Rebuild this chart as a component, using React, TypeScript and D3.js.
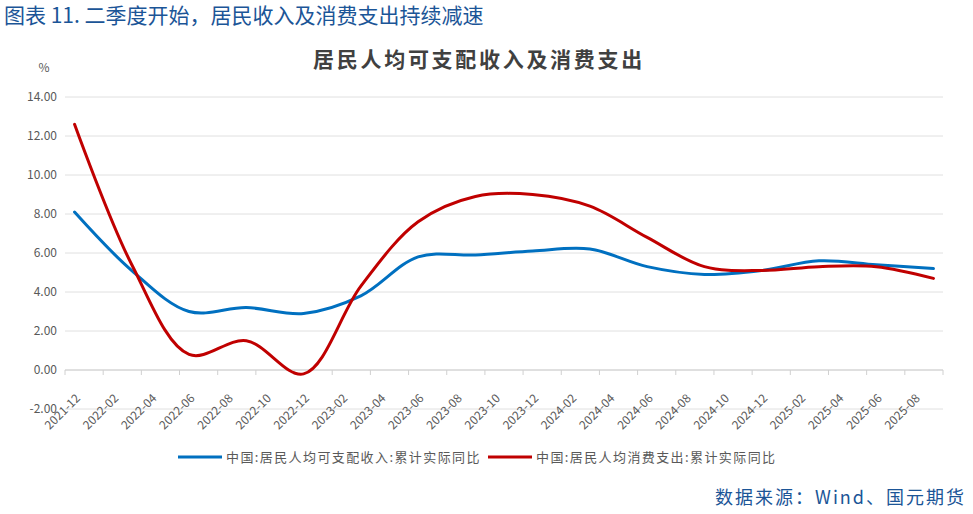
import React from "react";
import * as d3 from "d3";

// quarterly observations (cumulative real yoy, %)
const periods = [
  "2021-12", "2022-03", "2022-06", "2022-09", "2022-12",
  "2023-03", "2023-06", "2023-09", "2023-12",
  "2024-03", "2024-06", "2024-09", "2024-12",
  "2025-03", "2025-06", "2025-09",
];
const incomeValues = [8.1, 5.1, 3.0, 3.2, 2.9, 3.8, 5.8, 5.9, 6.1, 6.2, 5.3, 4.9, 5.1, 5.6, 5.4, 5.2];
const consumeValues = [12.6, 5.4, 0.8, 1.5, -0.2, 4.3, 7.6, 8.9, 9.0, 8.4, 6.8, 5.3, 5.1, 5.3, 5.3, 4.7];
const yTicks = [-2, 0, 2, 4, 6, 8, 10, 12, 14];
const seriesNames = ["中国:居民人均可支配收入:累计实际同比", "中国:居民人均消费支出:累计实际同比"];
const seriesColors = ["#0070C0", "#C00000"];

const W = 973;
const H = 514;
const left = 65;
const right = 943;
const top = 97;
const bottom = 409;

const parse = d3.timeParse("%Y-%m");
const fmt = d3.timeFormat("%Y-%m");
const start = parse("2021-12") as Date;
const end = parse("2025-10") as Date;
const nMonths = d3.timeMonth.count(start, end);

const x = d3.scaleLinear().domain([0, nMonths]).range([left, right]);
const y = d3.scaleLinear().domain([-2, 14]).range([bottom, top]);

const monthIdx = (s: string) => d3.timeMonth.count(start, parse(s) as Date);
const tickDates = d3.timeMonth.range(start, d3.timeMonth.offset(end, 1), 2);

export default function App() {
  const line = d3
    .line<number>()
    .x((_, i) => x(monthIdx(periods[i]) + 0.5))
    .y((d) => y(d))
    .curve(d3.curveCatmullRom.alpha(0.5));

  const series = [incomeValues, consumeValues];
  const font = "'Noto Sans CJK SC', 'Noto Sans', sans-serif";

  return (
    <svg width={W} height={H} style={{ position: "absolute", left: 0, top: 0, background: "#fff" }} fontFamily={font}>
      <text x={4} y={23} fontSize={21} fill="#1B5597">图表 11. 二季度开始，居民收入及消费支出持续减速</text>
      <text x={479} y={67} fontSize={21} fontWeight="bold" fill="#404040" textAnchor="middle" letterSpacing={2.7}>
        居民人均可支配收入及消费支出
      </text>
      <text x={44} y={72} fontSize={12} fill="#595959" textAnchor="middle">%</text>

      {yTicks.map((t) => (
        <g key={t}>
          <line x1={left} x2={right} y1={y(t)} y2={y(t)} stroke="#e0e0e0" strokeWidth={1} />
          <text x={57} y={y(t)} dy="0.35em" fontSize={12} fill="#595959" textAnchor="end">
            {t.toFixed(2)}
          </text>
        </g>
      ))}

      <line x1={left} x2={right} y1={y(0)} y2={y(0)} stroke="#d0d0d0" />
      {tickDates.map((d) => {
        const tx = x(d3.timeMonth.count(start, d));
        const isLast = d3.timeMonth.count(start, d) >= nMonths;
        return (
          <g key={fmt(d)}>
            <line x1={tx} x2={tx} y1={y(0)} y2={y(0) + 5} stroke="#d0d0d0" />
            {!isLast && (
              <text
                transform={`translate(${tx + 16},${y(0) + 29}) rotate(-45)`}
                fontSize={12}
                fill="#595959"
                textAnchor="end"
              >
                {fmt(d)}
              </text>
            )}
          </g>
        );
      })}

      {series.map((vals, i) => (
        <path key={i} d={line(vals) || ""} fill="none" stroke={seriesColors[i]} strokeWidth={3} strokeLinecap="round" />
      ))}

      {seriesNames.map((name, i) => {
        const lx = i === 0 ? 178 : 488;
        return (
          <g key={name}>
            <line x1={lx} x2={lx + 44} y1={457} y2={457} stroke={seriesColors[i]} strokeWidth={3} />
            <text x={lx + 48} y={457} dy="0.35em" fontSize={13} fill="#595959" letterSpacing={1.4}>{name}</text>
          </g>
        );
      })}

      <text x={966} y={504} fontSize={18} fill="#1B5597" textAnchor="end" letterSpacing={2}>数据来源：Wind、国元期货</text>
    </svg>
  );
}
